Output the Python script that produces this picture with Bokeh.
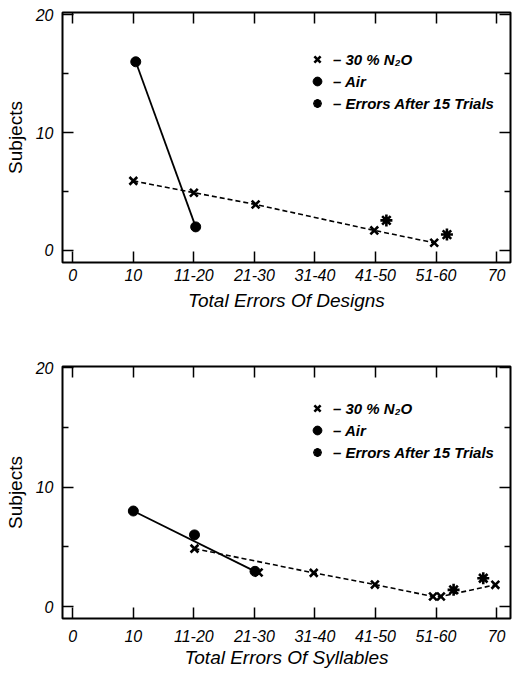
from bokeh.plotting import figure
from bokeh.models import FixedTicker, LinearAxis, Legend, LegendItem, Range1d
from bokeh.layouts import column
from bokeh.embed import file_html
from bokeh.resources import INLINE

FONT = "Liberation Sans"

x_ticks = [0, 10, 20, 30, 40, 50, 60, 70]
x_tick_labels = ["0", "10", "11-20", "21-30", "31-40", "41-50", "51-60", "70"]
y_ticks = [0, 10, 20]
y_minor_ticks = [5, 15]
legend_labels = ["– 30 % N₂O", "– Air", "– Errors After 15 Trials"]

# Panel 1: Total errors of designs
d_n2o_x = [10, 20, 30.2, 49.8, 59.7]
d_n2o_y = [5.9, 4.9, 3.9, 1.7, 0.65]
d_n2o_line_x = [10, 20, 30.2, 49.8, 59.7]
d_n2o_line_y = [5.9, 4.9, 3.9, 1.7, 0.65]
d_air_x = [10.4, 20.3]
d_air_y = [16.0, 2.0]
d_air_line_x = [10.4, 20.3]
d_air_line_y = [16.0, 2.0]
d_err_x = [51.8, 61.8]
d_err_y = [2.55, 1.35]

# Panel 2: Total errors of syllables
s_n2o_x = [20.1, 30.7, 39.8, 49.9, 59.5, 60.8, 69.8]
s_n2o_y = [4.85, 2.85, 2.82, 1.84, 0.84, 0.84, 1.82]
s_n2o_line_x = [20.1, 39.8, 49.9, 59.5, 60.8, 69.8]
s_n2o_line_y = [4.85, 2.82, 1.84, 0.84, 0.84, 1.82]
s_air_x = [10, 20.1, 30.1]
s_air_y = [8.0, 6.0, 2.95]
s_air_line_x = [10, 30.1]
s_air_line_y = [8.0, 2.95]
s_err_x = [62.9, 67.8]
s_err_y = [1.4, 2.37]


def style_axis(ax, ticks, labels=None, minor=None, show_labels=True):
    ax.ticker = FixedTicker(ticks=ticks, minor_ticks=minor or [])
    ax.axis_line_color = None
    ax.major_tick_in = 11
    ax.major_tick_out = 0
    ax.minor_tick_in = 6
    ax.minor_tick_out = 0
    ax.major_tick_line_width = 1.5
    ax.minor_tick_line_width = 1.5
    ax.major_tick_line_color = "black"
    ax.minor_tick_line_color = "black"
    if show_labels:
        if labels is not None:
            ax.major_label_overrides = {t: l for t, l in zip(ticks, labels)}
        ax.major_label_text_font = FONT
        ax.major_label_text_font_size = "16px"
        ax.major_label_text_font_style = "italic"
        ax.major_label_text_color = "black"
    else:
        ax.major_label_overrides = {t: "" for t in ticks}
        ax.major_label_standoff = 0


def panel(xlabel, n2o_x, n2o_y, n2o_lx, n2o_ly, air_x, air_y, air_lx, air_ly,
          err_x, err_y, height, top_b, bottom_b, y_rng, legend_y,
          tick_standoff, label_standoff):
    p = figure(width=512, height=height, x_range=Range1d(-1.7, 72.3),
               y_range=Range1d(*y_rng), output_backend="svg",
               toolbar_location=None, min_border_left=62, min_border_right=2,
               min_border_top=top_b, min_border_bottom=bottom_b,
               x_axis_label=xlabel, y_axis_label="Subjects")
    p.grid.visible = False
    p.outline_line_color = "black"
    p.outline_line_width = 2
    p.background_fill_color = "white"
    p.border_fill_color = "white"

    p.add_layout(LinearAxis(), "above")
    p.add_layout(LinearAxis(), "right")

    style_axis(p.below[0], x_ticks, x_tick_labels)
    style_axis(p.above[0], x_ticks, show_labels=False)
    style_axis(p.left[0], y_ticks, minor=y_minor_ticks)
    style_axis(p.right[0], y_ticks, minor=y_minor_ticks, show_labels=False)
    p.left[0].major_label_standoff = 9
    p.below[0].major_label_standoff = tick_standoff

    xa = p.below[0]
    xa.axis_label_text_font = FONT
    xa.axis_label_text_font_size = "19px"
    xa.axis_label_text_font_style = "italic"
    xa.axis_label_text_color = "black"
    xa.axis_label_standoff = label_standoff
    ya = p.left[0]
    ya.axis_label_text_font = FONT
    ya.axis_label_text_font_size = "19px"
    ya.axis_label_text_font_style = "normal"
    ya.axis_label_text_color = "black"
    ya.axis_label_standoff = 7

    p.line(n2o_lx, n2o_ly, line_color="black", line_width=1.6, line_dash="5 3")
    p.line(air_lx, air_ly, line_color="black", line_width=1.8)
    r_n2o = p.scatter(n2o_x, n2o_y, marker="x", size=11, line_width=2.6,
                      line_color="black")
    r_air = p.scatter(air_x, air_y, marker="circle", size=10,
                      fill_color="black", line_color="black")
    r_err = p.scatter(err_x, err_y, marker="asterisk", size=12, line_width=2.6,
                      line_color="black")

    legend = Legend(items=[
        LegendItem(label=legend_labels[0], renderers=[r_n2o]),
        LegendItem(label=legend_labels[1], renderers=[r_air]),
        LegendItem(label=legend_labels[2], renderers=[r_err]),
    ], location=(243, legend_y), orientation="vertical",
        glyph_width=24, glyph_height=22, label_height=22, spacing=-1,
        padding=0, margin=0, border_line_alpha=0, background_fill_alpha=0,
        label_text_font=FONT, label_text_font_size="15px",
        label_text_font_style="bold italic", label_text_color="black",
        label_standoff=4)
    p.add_layout(legend)
    return p


p1 = panel("Total Errors Of Designs", d_n2o_x, d_n2o_y, d_n2o_line_x, d_n2o_line_y,
           d_air_x, d_air_y, d_air_line_x, d_air_line_y, d_err_x, d_err_y,
           320, 12, 58, (-1.02, 20.18), 148, 6, 6)
p2 = panel("Total Errors Of Syllables", s_n2o_x, s_n2o_y, s_n2o_line_x, s_n2o_line_y,
           s_air_x, s_air_y, s_air_line_x, s_air_line_y, s_err_x, s_err_y,
           352, 46, 54, (-1.0, 20.1), 155, 11, 2)

layout = column(p1, p2)
open("out.html", "w").write(file_html(layout, INLINE))
